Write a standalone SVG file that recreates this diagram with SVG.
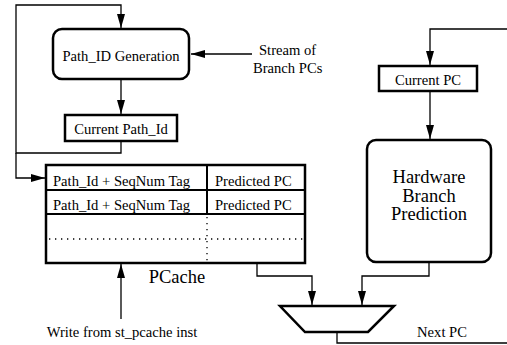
<svg xmlns="http://www.w3.org/2000/svg" width="507" height="345" viewBox="0 0 507 345" font-family="Liberation Serif, Times New Roman, serif">
<style>
text{fill:#000}
.s{font-size:14.6px}
.b{font-size:18.5px}
.box{fill:#fff;stroke:#000;stroke-width:2.5}
.ln{fill:none;stroke:#000;stroke-width:1.3}
.dot{fill:none;stroke:#000;stroke-width:1.3;stroke-dasharray:1.3 4.7}
</style>
<defs>
<marker id="ah" viewBox="0 0 14 8" refX="14" refY="4" markerWidth="14" markerHeight="8" markerUnits="userSpaceOnUse" orient="auto">
<path d="M0,0 L14,4 L0,8 z" fill="#000"/>
</marker>
</defs>
<rect width="507" height="345" fill="#fff"/>
<g id="connectors">
<path class="ln" d="M121,141 V153 H16 V5 H121 V28" marker-end="url(#ah)"/>
<path class="ln" d="M16,153 V178 H45" marker-end="url(#ah)"/>
<path class="ln" d="M121,79 V114" marker-end="url(#ah)"/>
<path class="ln" d="M252,54 H191" marker-end="url(#ah)"/>
<path class="ln" d="M507,29 H430 V65" marker-end="url(#ah)"/>
<path class="ln" d="M430,91 V139" marker-end="url(#ah)"/>
<path class="ln" d="M121,319 V264" marker-end="url(#ah)"/>
<path class="ln" d="M257,263 V276 H312 V305" marker-end="url(#ah)"/>
<path class="ln" d="M429,262 V276 H362 V305" marker-end="url(#ah)"/>
<path class="ln" d="M337,332 V343 H507"/>
</g>
<g id="pathid-gen">
<rect class="box" x="53" y="29" width="136" height="50" rx="9"/>
<text class="s" x="121" y="61" text-anchor="middle">Path_ID Generation</text>
</g>
<g id="stream-label">
<text class="s" x="259" y="55">Stream of</text>
<text class="s" x="253" y="73">Branch PCs</text>
</g>
<g id="current-pathid">
<rect class="box" x="65" y="115" width="112" height="26"/>
<text class="s" x="121" y="134" text-anchor="middle">Current Path_Id</text>
</g>
<g id="current-pc">
<rect class="box" x="379" y="66" width="98" height="25"/>
<text class="s" x="428" y="85" text-anchor="middle">Current PC</text>
</g>
<g id="hbp">
<rect class="box" x="367" y="140" width="124" height="122" rx="9"/>
<text class="b" x="429" y="183" text-anchor="middle">Hardware</text>
<text class="b" x="429" y="201.5" text-anchor="middle">Branch</text>
<text class="b" x="429" y="220" text-anchor="middle">Prediction</text>
</g>
<g id="pcache">
<rect class="box" x="46" y="165" width="259" height="98"/>
<path fill="none" stroke="#000" stroke-width="2" d="M46,190 H305 M46,214 H305 M207,165 V214"/>
<path class="dot" d="M49,239 H305"/>
<path class="dot" d="M207,217 V263"/>
<text class="s" x="53" y="186">Path_Id + SeqNum Tag</text>
<text class="s" x="215" y="186">Predicted PC</text>
<text class="s" x="53" y="210">Path_Id + SeqNum Tag</text>
<text class="s" x="215" y="210">Predicted PC</text>
<text class="b" x="177" y="283" text-anchor="middle">PCache</text>
</g>
<g id="write-label">
<text class="s" x="122" y="337" text-anchor="middle">Write from st_pcache inst</text>
</g>
<g id="mux">
<path class="box" d="M280,306 H394 L368,332 H305 z"/>
</g>
<g id="nextpc-label">
<text class="s" x="442" y="337" text-anchor="middle">Next PC</text>
</g>
</svg>
